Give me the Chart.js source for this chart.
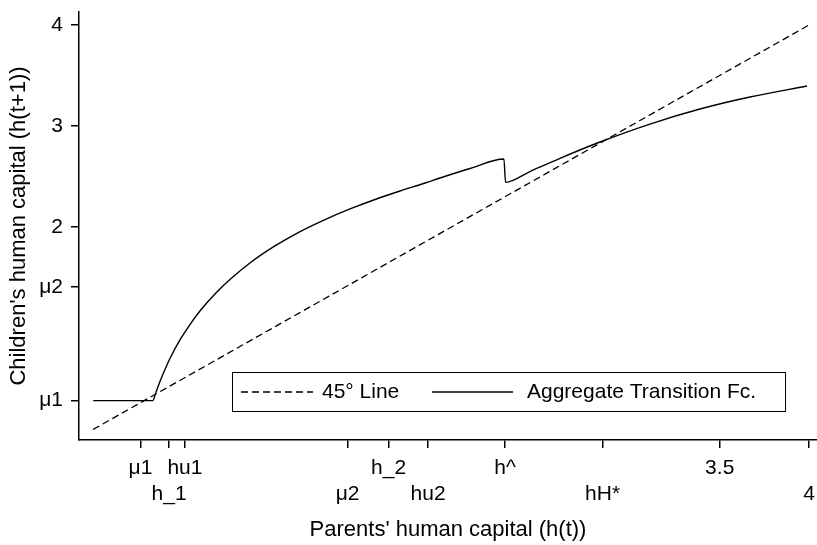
<!DOCTYPE html>
<html>
<head>
<meta charset="utf-8">
<script src="https://cdn.jsdelivr.net/npm/chart.js@4/dist/chart.umd.min.js"></script>
<style>
  html, body { margin: 0; padding: 0; background: #fff; }
  #wrap { width: 817px; height: 545px; }
</style>
</head>
<body>
<div id="wrap"><canvas id="chart" width="817" height="545"></canvas></div>
<script>
// x axis tick positions and their labels (two staggered rows)
const xTickValues = [0.255, 0.415, 0.504, 1.415, 1.645, 1.866, 2.297, 2.844, 3.5, 4];
const xTickLabels = ["μ1", "h_1", "hu1", "μ2", "h_2", "hu2", "h^", "hH*", "3.5", "4"];

// y axis ticks
const yTickValues = [0.275, 1.405, 2, 3, 4];
const yTickLabels = ["μ1", "μ2", "2", "3", "4"];

// 45 degree line
const diagX = [-0.01, 4];
const diagY = [-0.01, 4];

// aggregate transition function
const transX = [-0.01, 0.323, 0.342, 0.364, 0.392, 0.420, 0.476, 0.532, 0.588, 0.672, 0.756, 0.868, 1.008, 1.149, 1.289, 1.429, 1.569, 1.709, 1.849, 1.933, 2.101, 2.291, 2.300, 2.437, 2.605, 2.829, 3.109, 3.389, 3.669, 3.989];
const transY = [0.275, 0.275, 0.361, 0.465, 0.584, 0.693, 0.877, 1.030, 1.164, 1.333, 1.476, 1.640, 1.809, 1.952, 2.071, 2.176, 2.270, 2.354, 2.433, 2.483, 2.577, 2.671, 2.440, 2.547, 2.678, 2.840, 3.018, 3.167, 3.286, 3.395];

const FONT = "'Liberation Sans', Arial, Helvetica, sans-serif";

const toPoints = (xs, ys) => xs.map((x, i) => ({ x: x, y: ys[i] }));

// legend drawn in a box inside the plot
const boxLegend = {
  id: "boxLegend",
  afterDatasetsDraw(chart) {
    const ctx = chart.ctx;
    const ds = chart.data.datasets;
    ctx.save();
    ctx.strokeStyle = "#000";
    ctx.lineWidth = 1;
    ctx.strokeRect(232.5, 372.5, 553, 39);
    ctx.font = "21px " + FONT;
    ctx.fillStyle = "#000";
    ctx.textBaseline = "middle";
    const y = 392;
    // dashed sample
    ctx.lineWidth = 1.3;
    ctx.setLineDash([7, 4]);
    ctx.beginPath();
    ctx.moveTo(241, y);
    ctx.lineTo(313, y);
    ctx.stroke();
    ctx.fillText(ds[0].label, 322, y);
    // solid sample
    ctx.setLineDash([]);
    ctx.beginPath();
    ctx.moveTo(432, y);
    ctx.lineTo(513, y);
    ctx.stroke();
    ctx.fillText(ds[1].label, 527, y);
    ctx.restore();
  },
};

const ctx = document.getElementById("chart").getContext("2d");
new Chart(ctx, {
  type: "scatter",
  data: {
    datasets: [
      {
        label: "45° Line",
        data: toPoints(diagX, diagY),
        showLine: true,
        borderColor: "#000",
        borderWidth: 1.3,
        borderDash: [7, 4],
        pointRadius: 0,
      },
      {
        label: "Aggregate Transition Fc.",
        data: toPoints(transX, transY),
        showLine: true,
        borderColor: "#000",
        borderWidth: 1.4,
        pointRadius: 0,
        cubicInterpolationMode: "monotone",
      },
    ],
  },
  options: {
    responsive: false,
    animation: false,
    layout: { padding: { top: 12, right: 0, left: 0, bottom: 0 } },
    plugins: {
      legend: { display: false },
      tooltip: { enabled: false },
    },
    scales: {
      x: {
        type: "linear",
        min: -0.0896,
        max: 4.045,
        afterBuildTicks: (scale) => {
          scale.ticks = xTickValues.map((v) => ({ value: v }));
        },
        afterFit: (scale) => {
          scale.height = 105;
          scale.paddingLeft = 0;
          scale.paddingRight = 0;
        },
        ticks: {
          autoSkip: false,
          maxRotation: 0,
          padding: 8,
          color: "#000",
          font: { family: FONT, size: 21, lineHeight: 1.2 },
          callback: (value, index) =>
            index % 2 === 0 ? xTickLabels[index] : ["", xTickLabels[index]],
        },
        grid: {
          drawOnChartArea: false,
          drawTicks: true,
          tickLength: 8,
          color: "#000",
          lineWidth: 1.5,
        },
        border: { display: true, color: "#000", width: 1.5 },
        title: {
          display: true,
          text: "Parents' human capital (h(t))",
          color: "#000",
          font: { family: FONT, size: 22 },
          padding: { top: 4, bottom: 2 },
        },
      },
      y: {
        type: "linear",
        min: -0.115,
        max: 4.129,
        afterBuildTicks: (scale) => {
          scale.ticks = yTickValues.map((v) => ({ value: v }));
        },
        afterFit: (scale) => {
          scale.width = 79;
          scale.paddingTop = 0;
          scale.paddingBottom = 0;
        },
        ticks: {
          autoSkip: false,
          padding: 8,
          color: "#000",
          font: { family: FONT, size: 21 },
          callback: (value, index) => yTickLabels[index],
        },
        grid: {
          drawOnChartArea: false,
          drawTicks: true,
          tickLength: 8,
          color: "#000",
          lineWidth: 1.5,
        },
        border: { display: true, color: "#000", width: 1.5 },
        title: {
          display: true,
          text: "Children's human capital (h(t+1))",
          color: "#000",
          font: { family: FONT, size: 22 },
          padding: { top: 6, bottom: 4 },
        },
      },
    },
  },
  plugins: [
    {
      id: "whiteBg",
      beforeDraw(chart) {
        const c = chart.ctx;
        c.save();
        c.fillStyle = "#fff";
        c.fillRect(0, 0, chart.width, chart.height);
        c.restore();
      },
    },
    boxLegend,
  ],
});
</script>
</body>
</html>
